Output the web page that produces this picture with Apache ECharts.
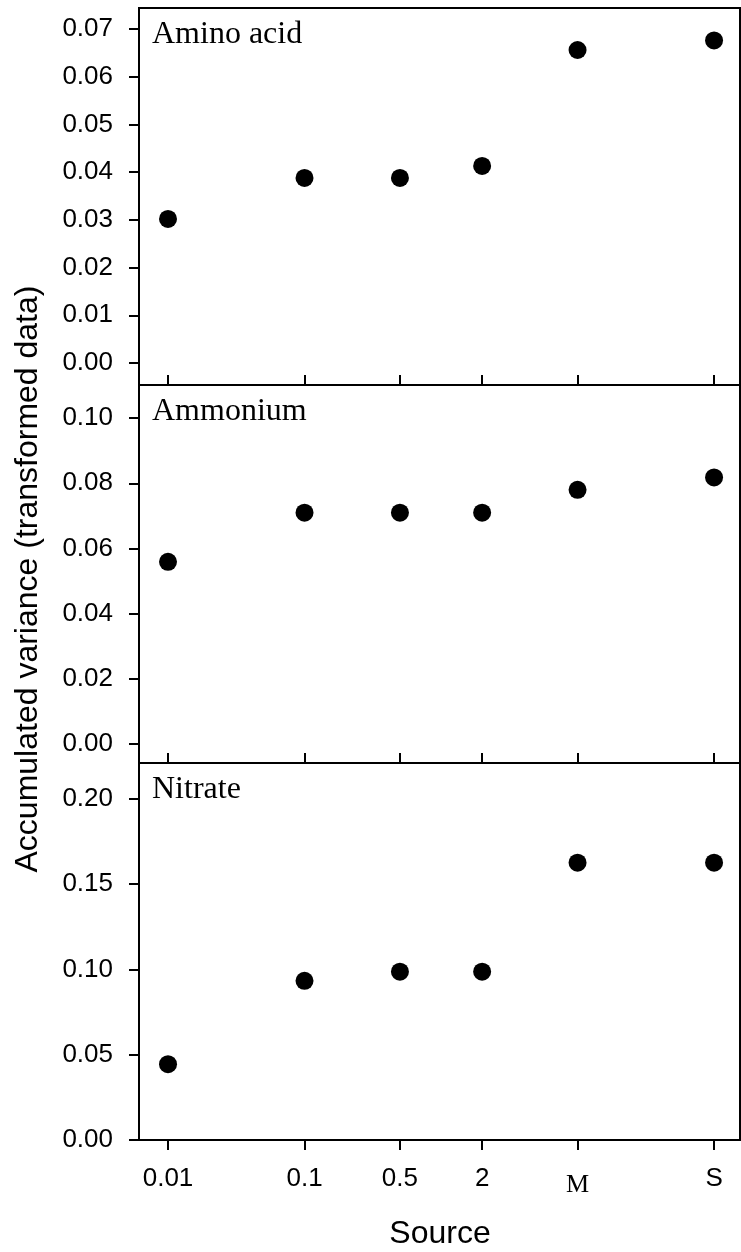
<!DOCTYPE html>
<html>
<head>
<meta charset="utf-8">
<script src="https://cdn.jsdelivr.net/npm/echarts@6/dist/echarts.min.js"></script>
<style>
  html, body { margin: 0; padding: 0; background: #fff; }
  #chart { width: 741px; height: 1252px; }
</style>
</head>
<body>
<div id="chart"></div>
<script>
// 横轴：来源（M、S 在对数轴上放在 10、100 的位置）
const sourceLabels = ['0.01', '0.1', '0.5', '2', 'M', 'S'];
const sourceValues = [0.01, 0.1, 0.5, 2, 10, 100];

// 三个面板的数据
const aminoAcid = [0.0302, 0.0388, 0.0388, 0.0413, 0.0656, 0.0676];
const ammonium = [0.0559, 0.0710, 0.0710, 0.0710, 0.0780, 0.0818];
const nitrate = [0.0444, 0.0933, 0.0986, 0.0986, 0.1625, 0.1625];

// 纵轴刻度
const ticksAmino = [0, 0.01, 0.02, 0.03, 0.04, 0.05, 0.06, 0.07];
const ticksAmmonium = [0, 0.02, 0.04, 0.06, 0.08, 0.10];
const ticksNitrate = [0, 0.05, 0.10, 0.15, 0.20];

const panelNames = ['Amino acid', 'Ammonium', 'Nitrate'];

const xPos = sourceValues.map(v => Math.log10(v));
const X_MIN = -2.2125, X_MAX = 2.19;

const sans = 'Liberation Sans, Arial, sans-serif';
const serif = 'Liberation Serif, Times New Roman, serif';

const grids = [
    { left: 139, top: 8, width: 601, height: 377 },
    { left: 139, top: 385, width: 601, height: 378 },
    { left: 139, top: 763, width: 601, height: 377 }
].map(g => Object.assign(g, { show: true, borderColor: '#000', borderWidth: 2, backgroundColor: 'transparent' }));

function xAxisBase(gridIndex, position, showTicks, showLabels) {
    return {
        type: 'value', gridIndex, position, min: X_MIN, max: X_MAX,
        axisLine: { show: false, onZero: false },
        splitLine: { show: false },
        axisTick: {
            show: showTicks, inside: false, length: 10, customValues: xPos,
            lineStyle: { color: '#000', width: 2 }
        },
        axisLabel: {
            show: showLabels, customValues: xPos, margin: 26,
            color: '#000', fontFamily: sans, fontSize: 26,
            formatter: (v) => {
                const i = xPos.findIndex(p => Math.abs(p - v) < 1e-6);
                const s = i >= 0 ? sourceLabels[i] : '';
                return s === 'M' ? '{m|M}' : s;
            },
            rich: { m: { fontFamily: serif, fontSize: 26, color: '#000', padding: [6, 0, 0, 0] } }
        }
    };
}

function yAxisBase(gridIndex, min, max, ticks) {
    return {
        type: 'value', gridIndex, min, max,
        axisLine: { show: false, onZero: false },
        splitLine: { show: false },
        axisTick: { show: true, inside: false, length: 10, customValues: ticks, lineStyle: { color: '#000', width: 2 } },
        axisLabel: {
            customValues: ticks, margin: 26, color: '#000', fontFamily: sans, fontSize: 26,
            formatter: v => v.toFixed(2)
        }
    };
}

function scatter(xAxisIndex, yAxisIndex, values) {
    return {
        type: 'scatter', xAxisIndex, yAxisIndex,
        symbol: 'circle', symbolSize: 18,
        itemStyle: { color: '#000', opacity: 1 },
        data: xPos.map((x, i) => [x, values[i]])
    };
}

const chart = echarts.init(document.getElementById('chart'), null, { renderer: 'canvas' });
chart.setOption({
    animation: false,
    backgroundColor: '#fff',
    title: panelNames.map((name, i) => ({
        text: name, left: 152, top: [19, 396, 774][i], padding: 0,
        textStyle: { fontFamily: serif, fontSize: 32, fontWeight: 'normal', color: '#000' }
    })),
    grid: grids,
    xAxis: [
        xAxisBase(0, 'bottom', false, false),
        xAxisBase(1, 'top', true, false),
        xAxisBase(2, 'top', true, false),
        xAxisBase(2, 'bottom', true, true)
    ],
    yAxis: [
        yAxisBase(0, -0.0046, 0.0744, ticksAmino),
        yAxisBase(1, -0.0059, 0.1102, ticksAmmonium),
        yAxisBase(2, 0, 0.2209, ticksNitrate)
    ],
    series: [
        scatter(0, 0, aminoAcid),
        scatter(1, 1, ammonium),
        scatter(3, 2, nitrate)
    ],
    graphic: [
        {
            type: 'text', x: 28, y: 579, rotation: Math.PI / 2,
            style: { text: 'Accumulated variance (transformed data)', fontFamily: sans, fontSize: 32, fill: '#000', textAlign: 'center', textVerticalAlign: 'middle' }
        },
        {
            type: 'text', x: 440, y: 1234,
            style: { text: 'Source', fontFamily: sans, fontSize: 32, fill: '#000', textAlign: 'center', textVerticalAlign: 'middle' }
        }
    ]
});
</script>
</body>
</html>
